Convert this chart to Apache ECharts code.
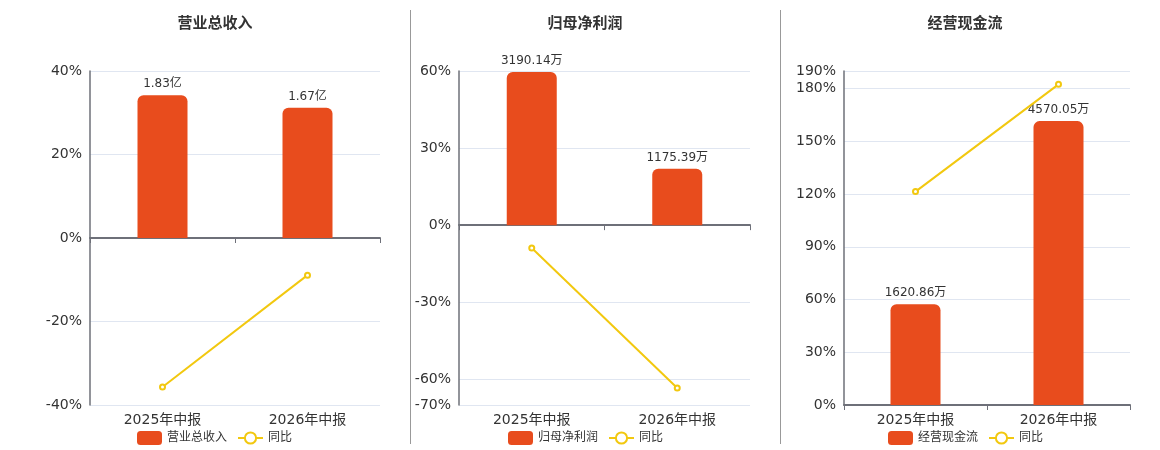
<!DOCTYPE html>
<html><head><meta charset="utf-8">
<script src="https://cdn.jsdelivr.net/npm/echarts@6/dist/echarts.min.js"></script>
<style>html,body{margin:0;padding:0;background:#fff}#c{width:1160px;height:450px}</style>
</head><body><div id="c"></div>
<script>
const categories = ['2025年中报', '2026年中报'];
const titles = ['营业总收入', '归母净利润', '经营现金流'];
const revenue = [1.83, 1.67];          // 亿
const revenueYoY = [-35.7, -8.9];      // %
const netProfit = [3190.14, 1175.39];  // 万
const netProfitYoY = [-8.9, -63.4];    // %
const cashFlow = [1620.86, 4570.05];   // 万
const cashFlowYoY = [121.4, 182.4];    // %
const units = ['亿', '万', '万'];
const ticks1 = [-40, -20, 0, 20, 40];
const ticks2 = [-70, -60, -30, 0, 30, 60];
const ticks3 = [0, 30, 60, 90, 120, 150, 180, 190];

const FONT = "'DejaVu Sans','Noto Sans CJK SC',sans-serif";
const BAR = '#E84C1D', LINE = '#F2C80F';
const panels = [
  {bars: revenue, yoy: revenueYoY, ticks: ticks1, left: 90, width: 290, bmax: 2.14, bmin: -2.14, cx: 210, legX: 132},
  {bars: netProfit, yoy: netProfitYoY, ticks: ticks2, left: 459, width: 291, bmax: 3211, bmin: -3746, cx: 580, legX: 503},
  {bars: cashFlow, yoy: cashFlowYoY, ticks: ticks3, left: 844, width: 286, bmax: 5377, bmin: 0, cx: 960, legX: 883}
];
const option = {
  animation: false,
  textStyle: {fontFamily: FONT},
  title: [], grid: [], xAxis: [], yAxis: [], series: [], legend: [],
  graphic: [
    {type: 'line', shape: {x1: 410.5, y1: 10, x2: 410.5, y2: 444}, style: {stroke: '#999', lineWidth: 1}},
    {type: 'line', shape: {x1: 780.5, y1: 10, x2: 780.5, y2: 444}, style: {stroke: '#999', lineWidth: 1}}
  ]
};
panels.forEach((p, i) => {
  const tmin = Math.min(...p.ticks), tmax = Math.max(...p.ticks);
  option.title.push({text: titles[i], left: p.cx, top: 12, textAlign: 'center',
    textStyle: {fontSize: 15, fontWeight: 'bold', color: '#333', fontFamily: FONT}});
  option.grid.push({left: p.left, width: p.width, top: 71, height: 334});
  option.xAxis.push({type: 'category', gridIndex: i, data: categories, position: 'bottom',
    axisLine: {show: false, onZero: false}, axisTick: {show: false},
    axisLabel: {fontSize: 14, color: '#333', margin: 8, fontFamily: FONT}});
  option.xAxis.push({type: 'category', gridIndex: i, data: categories, position: 'bottom',
    axisLine: {show: true, onZero: true, lineStyle: {color: '#6E7079', width: 2}},
    axisTick: {show: true, length: 5, lineStyle: {color: '#6E7079'}}, axisLabel: {show: false}});
  option.yAxis.push({type: 'value', gridIndex: i, min: tmin, max: tmax, interval: 10,
    axisLine: {show: true, lineStyle: {color: '#6E7079', width: 1.5}},
    axisTick: {show: false, customValues: p.ticks},
    axisLabel: {fontSize: 14, color: '#333', formatter: '{value}%', fontFamily: FONT, customValues: p.ticks},
    splitLine: {lineStyle: {color: '#E0E6F1'}}});
  option.yAxis.push({type: 'value', gridIndex: i, min: p.bmin, max: p.bmax, show: false, splitLine: {show: false}});
  const barName = titles[i];
  option.series.push({name: barName, type: 'bar', xAxisIndex: 2 * i, yAxisIndex: 2 * i + 1,
    data: p.bars, barWidth: 50, itemStyle: {color: BAR, borderRadius: [6, 6, 0, 0]},
    label: {show: true, position: 'top', fontSize: 12, color: '#333', fontFamily: FONT,
      formatter: d => d.value + units[i]}});
  option.series.push({name: '同比', type: 'line', xAxisIndex: 2 * i, yAxisIndex: 2 * i,
    data: p.yoy, symbol: 'emptyCircle', symbolSize: 5, lineStyle: {color: LINE, width: 2},
    itemStyle: {color: LINE}, z: 5});
  option.legend.push({left: p.legX, top: 426, itemGap: 10, itemWidth: 25, itemHeight: 14,
    data: [{name: barName, icon: 'roundRect'}, {name: '同比'}],
    textStyle: {fontSize: 12, color: '#333', fontFamily: FONT}});
});
const chart = echarts.init(document.getElementById('c'));
chart.setOption(option);
</script></body></html>
